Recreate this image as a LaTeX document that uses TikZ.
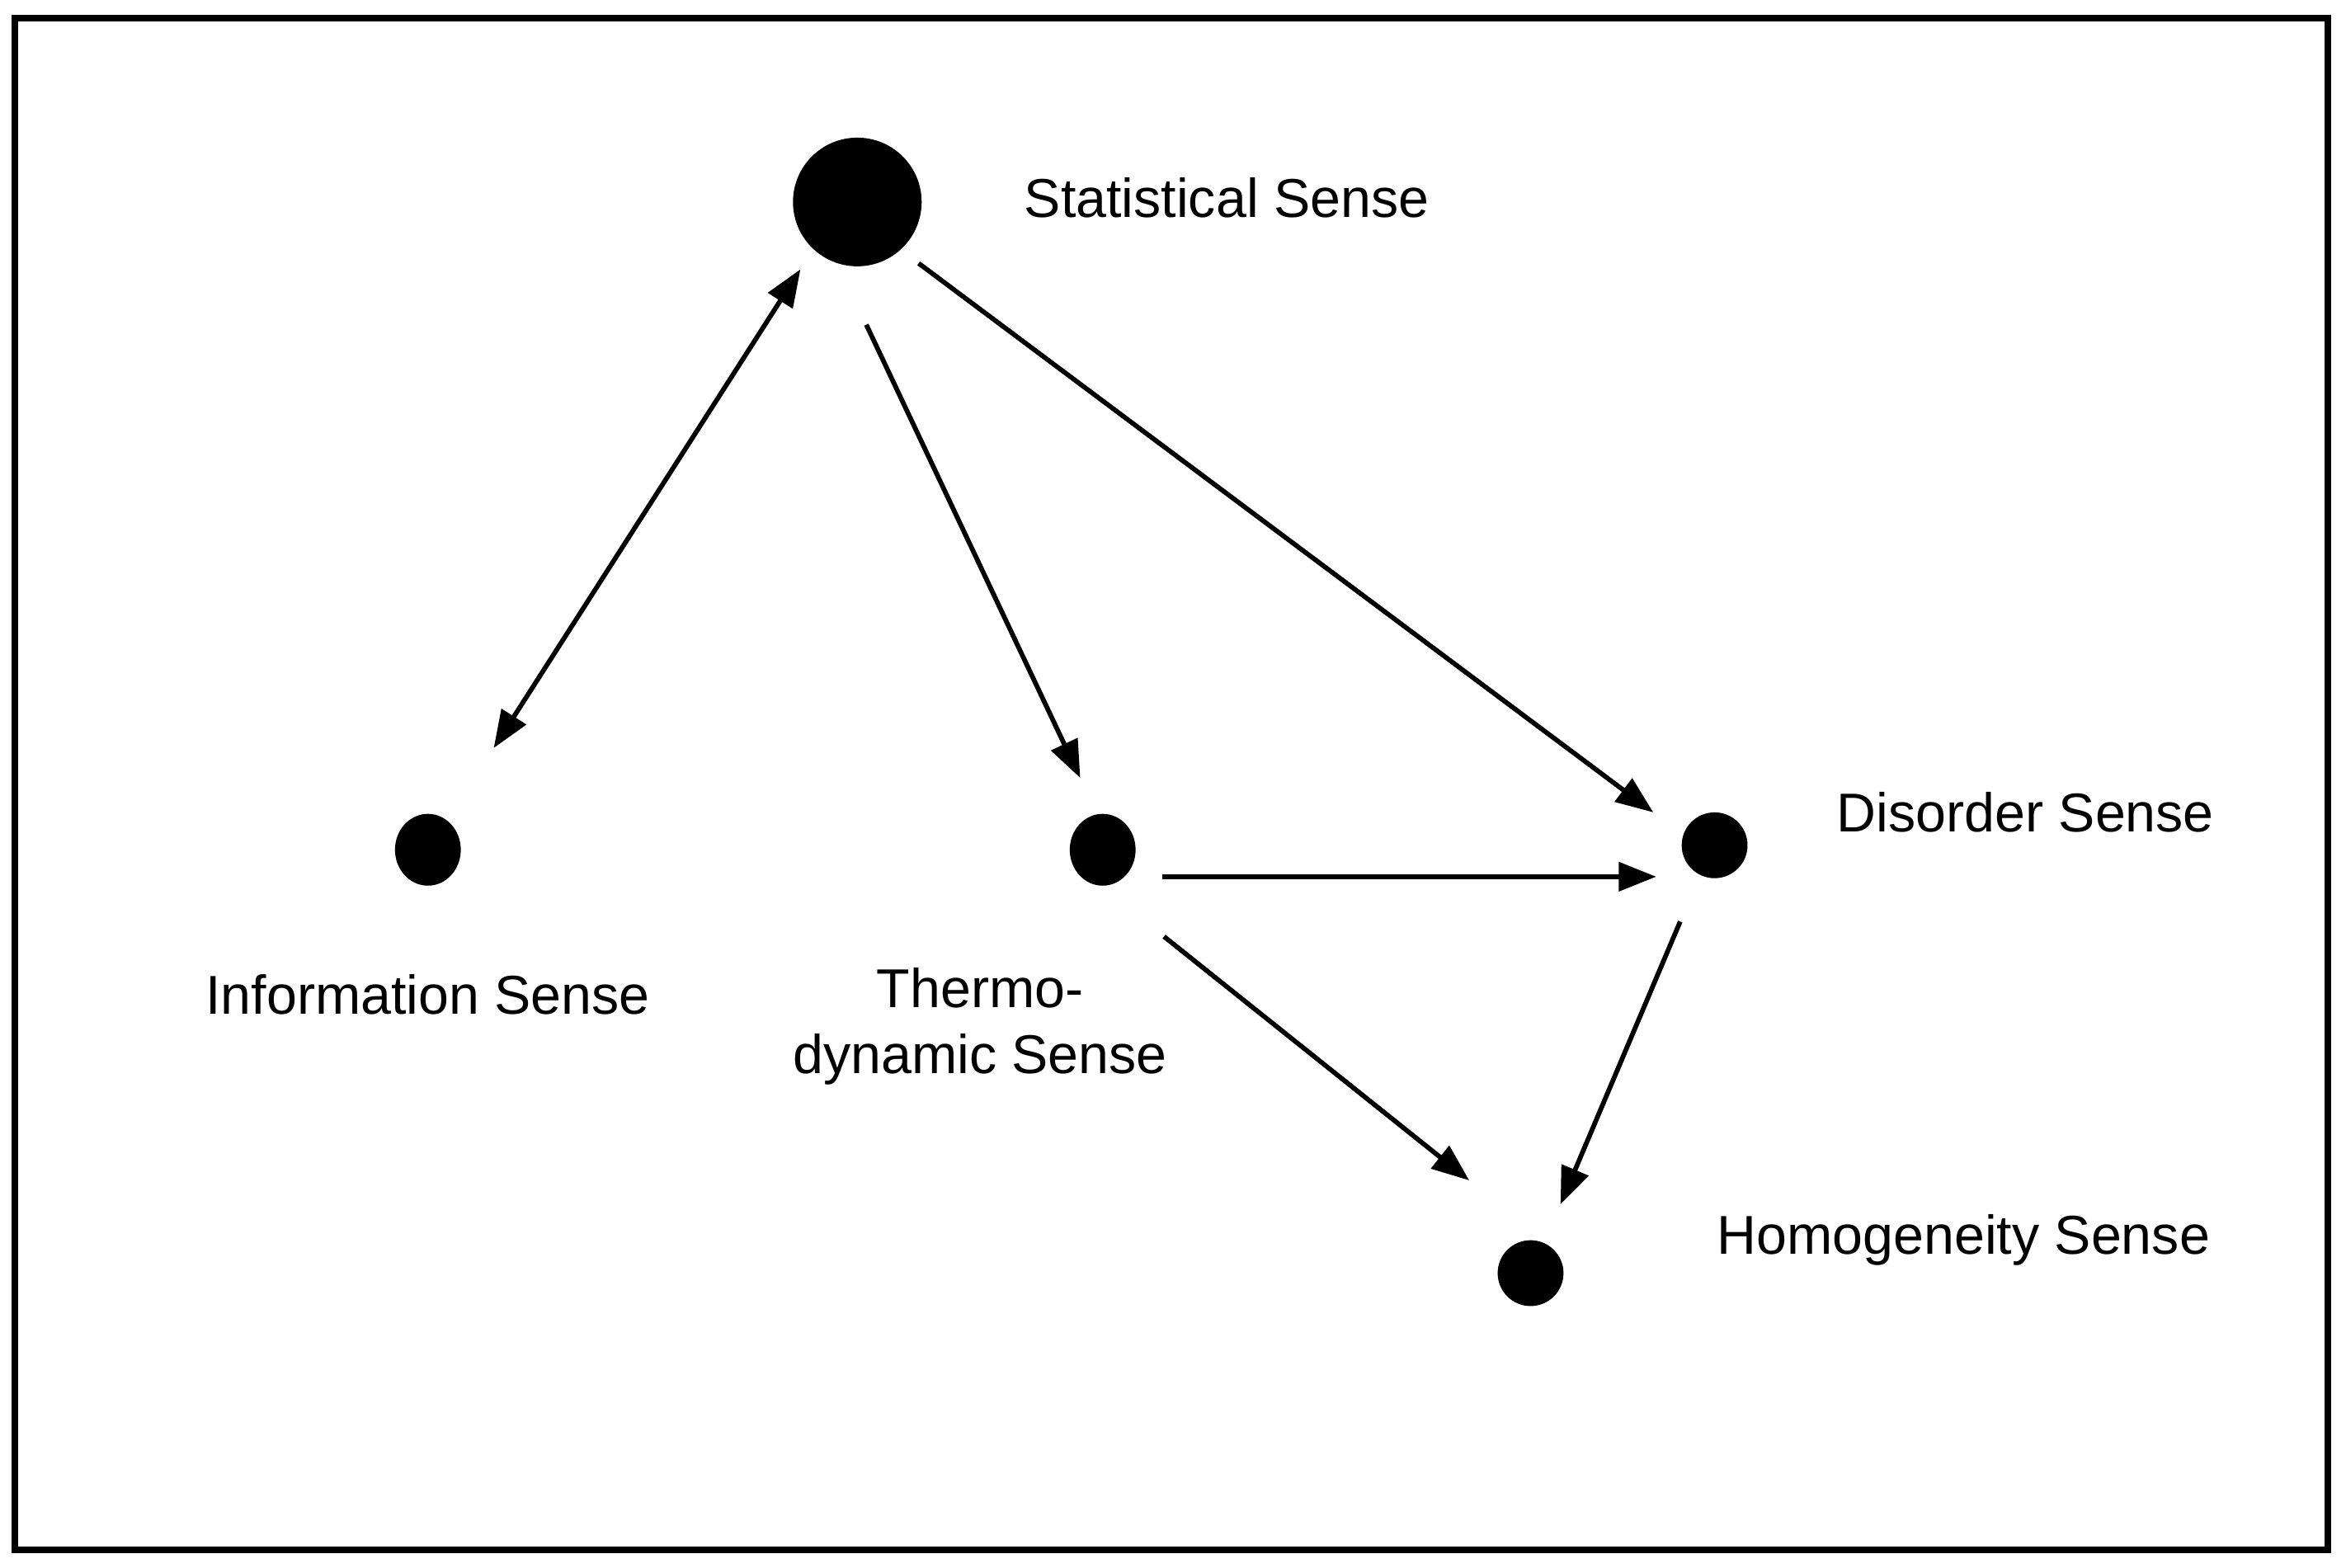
\documentclass[tikz,border=0pt]{standalone}
\usepackage{fontspec}
\setmainfont{Liberation Sans}
\usetikzlibrary{arrows.meta}
\begin{document}
\begin{tikzpicture}[x=0.01cm,y=-0.01cm,
  dot/.style={fill=black,ellipse,inner sep=0pt},
  lab/.style={font=\fontsize{10.4pt}{12.5pt}\selectfont,inner sep=0pt},
  arr/.style={line width=0.9pt,-{Triangle[length=0.25cm,width=0.19cm]}},
  barr/.style={line width=0.9pt,{Triangle[length=0.25cm,width=0.19cm]}-{Triangle[length=0.25cm,width=0.19cm]}}]
\useasboundingbox (0,0) rectangle (1568,1048);
\draw[line width=1.2pt] (10,12) rectangle (1556,1036);
\fill (573,135) circle (43);
\fill (286,568) ellipse (22 and 24);
\fill (737,568) ellipse (22 and 24);
\fill (1146,565) ellipse (22 and 22);
\fill (1023,851) ellipse (22 and 22);
\node[lab,anchor=west] (ls) at (684,132) {Statistical Sense};
\node[lab] (li) at (286,665) {Information Sense};
\node[lab,align=center] (lt) at (655,686) {Thermo-\\dynamic Sense};
\node[lab,anchor=west] (ld) at (1227,543) {Disorder Sense};
\node[lab,anchor=west] (lh) at (1147,829) {Homogeneity Sense};
\coordinate (i1) at (330,500); \coordinate (s1) at (535,180);
\coordinate (s2) at (579,217); \coordinate (t1) at (722,520);
\coordinate (s3) at (614,176); \coordinate (d1) at (1105,543);
\coordinate (t2) at (777,586); \coordinate (d2) at (1107,586);
\coordinate (t3) at (778,626); \coordinate (h1) at (982,789);
\coordinate (d3) at (1123,616); \coordinate (h2) at (1043,805);
\draw[barr] (i1) -- (s1);
\draw[arr] (s2) -- (t1);
\draw[arr] (s3) -- (d1);
\draw[arr] (t2) -- (d2);
\draw[arr] (t3) -- (h1);
\draw[arr] (d3) -- (h2);
\end{tikzpicture}
\end{document}
